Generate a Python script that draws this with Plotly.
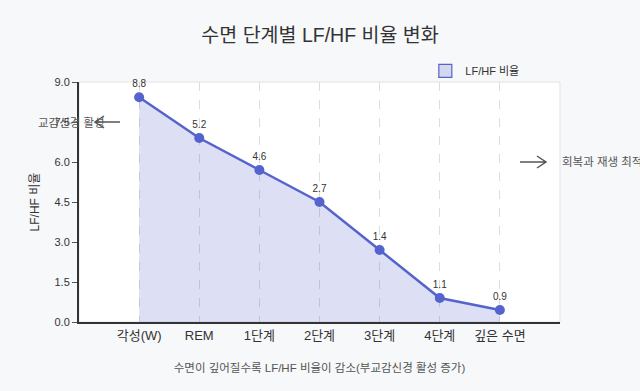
import plotly.graph_objects as go

categories = ["각성(W)", "REM", "1단계", "2단계", "3단계", "4단계", "깊은 수면"]
lfhf_values = [8.43, 6.9, 5.7, 4.5, 2.7, 0.9, 0.45]
value_labels = ["8.8", "5.2", "4.6", "2.7", "1.4", "1.1", "0.9"]
y_ticks = [0.0, 1.5, 3.0, 4.5, 6.0, 7.5, 9.0]

FONT = "Liberation Sans, Noto Sans CJK KR, sans-serif"
LINE = "#5563cc"
ARROW = "#555555"

fig = go.Figure()
fig.add_trace(go.Scatter(
    x=categories, y=lfhf_values, mode="lines+markers+text",
    text=value_labels, textposition="top center",
    textfont=dict(size=10, color="#333", family=FONT),
    line=dict(color=LINE, width=2.5),
    marker=dict(color=LINE, size=10),
    fill="tozeroy", fillcolor="rgba(85,99,204,0.2)",
    showlegend=False, cliponaxis=False,
))
fig.add_trace(go.Scatter(
    x=[None], y=[None], mode="markers", name="LF/HF 비율",
    marker=dict(symbol="square", size=13, color="rgba(85,99,204,0.22)",
                line=dict(color=LINE, width=1.2)),
))

fig.update_layout(
    width=640, height=391,
    margin=dict(l=79, r=80, t=82, b=69),
    paper_bgcolor="#f7f8fa", plot_bgcolor="#ffffff",
    font=dict(family=FONT, color="#333"),
    title=dict(text="수면 단계별 LF/HF 비율 변화", x=0.5, xanchor="center",
               y=1 - 35 / 391, yanchor="middle", yref="container",
               font=dict(size=19.5, color="#333")),
    showlegend=True,
    legend=dict(x=0.72, y=1.046, xanchor="left", yanchor="middle",
                orientation="h", bgcolor="rgba(0,0,0,0)",
                font=dict(size=11, color="#333"), itemwidth=30),
    xaxis=dict(
        type="category", range=[-1, 7], categoryorder="array", categoryarray=categories,
        showgrid=True, gridcolor="#dddddd", griddash="dash", gridwidth=1,
        showline=True, linecolor="#333", linewidth=2, ticks="",
        tickfont=dict(size=13, color="#333"),
        title=dict(text="수면이 깊어질수록 LF/HF 비율이 감소(부교감신경 활성 증가)",
                   font=dict(size=11.5, color="#555"), standoff=22),
        zeroline=False,
    ),
    yaxis=dict(
        range=[0, 9], tickvals=y_ticks, tickformat=".1f",
        showgrid=False, zeroline=False,
        showline=True, linecolor="#333", linewidth=2,
        ticks="outside", ticklen=5, tickcolor="#555",
        tickfont=dict(size=11, color="#333"),
        title=dict(text="LF/HF 비율", font=dict(size=12, color="#333"), standoff=12),
    ),
    shapes=[
        dict(type="rect", xref="paper", yref="paper", x0=0, x1=1, y0=0, y1=1,
             line=dict(color="#e3e3e3", width=1), layer="below"),
        # left-pointing arrow (sympathetic)
        dict(type="path", xref="paper", yref="y",
             path="M 0.0852,7.5 L 0.0333,7.5 M 0.052,7.725 L 0.0333,7.5 L 0.052,7.275",
             line=dict(color=ARROW, width=1.5)),
        # right-pointing arrow (recovery)
        dict(type="path", xref="paper", yref="y",
             path="M 0.9168,6.0 L 0.9709,6.0 M 0.9522,6.225 L 0.9709,6.0 L 0.9522,5.775",
             line=dict(color=ARROW, width=1.5)),
    ],
    annotations=[
        dict(text="교감신경 활성", xref="paper", yref="y", x=-0.015, y=7.5,
             xanchor="center", showarrow=False, font=dict(size=11.5, color="#555")),
        dict(text="회복과 재생 최적", xref="paper", yref="y", x=1.0, y=6.0,
             xanchor="left", showarrow=False, font=dict(size=11.5, color="#555")),
    ],
)

fig.write_html(
    "out.html",
    config={"displayModeBar": False},
    post_script="document.body.style.margin='0';document.body.style.background='#f7f8fa';",
)
